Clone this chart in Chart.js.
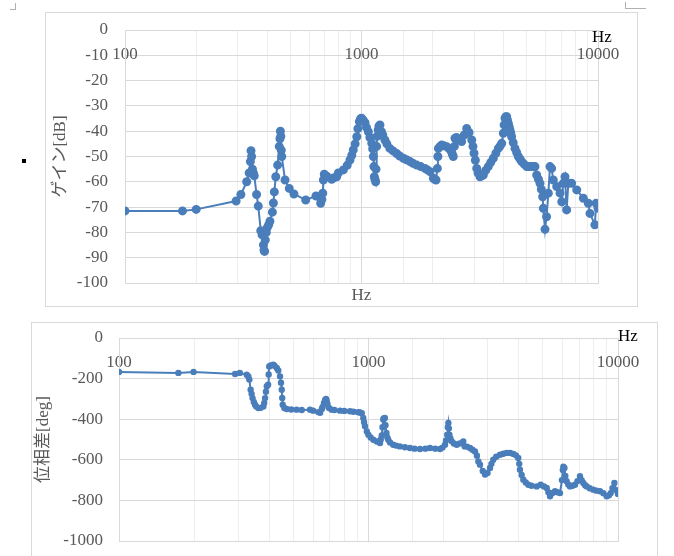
<!DOCTYPE html>
<html>
<head>
<meta charset="utf-8">
<script src="https://cdn.jsdelivr.net/npm/chart.js@4.4.0/dist/chart.umd.min.js"></script>
<style>
html, body { margin: 0; padding: 0; background: #fff; width: 674px; height: 556px; overflow: hidden; }
.box { position: absolute; border: 1px solid #d9d9d9; box-sizing: border-box; background: #fff; }
#box1 { left: 45px; top: 12px; width: 593px; height: 295px; }
#box2 { left: 31px; top: 322px; width: 627px; height: 245px; }
.hz { position: absolute; font: 17px/17px "Liberation Serif", serif; color: #000; }
.mark { position: absolute; background: #b0b0b0; }
</style>
</head>
<body>
<div class="box" id="box1"><canvas id="gainChart"></canvas></div>
<div class="box" id="box2"><canvas id="phaseChart"></canvas></div>
<div class="hz" style="left:592px; top:28px;">Hz</div>
<div class="hz" style="left:618px; top:327px;">Hz</div>
<div style="position:absolute; left:22px; top:159px; width:4px; height:4px; background:#000;"></div>
<div class="mark" style="left:10px; top:9px; width:6px; height:1px;"></div>
<div class="mark" style="left:15px; top:3px; width:1px; height:7px;"></div>
<div class="mark" style="left:625px; top:8px; width:21px; height:1px;"></div>
<div class="mark" style="left:625px; top:2px; width:1px; height:7px;"></div>
<script>
// gain (top chart), Hz / dB
const gainFreq = [
  100, 175, 200, 295, 309, 327, 335, 339, 341, 343,
  346, 349, 352, 360, 366, 375, 380, 385, 387, 389,
  392, 396, 400, 405, 410, 420, 424, 428, 434, 442,
  449, 452, 454, 456, 458, 460, 475, 495, 518, 581,
  642, 665, 672, 680, 686, 690, 696, 713, 748, 760,
  785, 798, 838, 870, 894, 910, 923, 940, 955, 965,
  979, 990, 1000, 1015, 1035, 1050, 1069, 1085, 1105, 1115,
  1122, 1128, 1133, 1140, 1148, 1152, 1159, 1165, 1177, 1185,
  1197, 1215, 1230, 1256, 1280, 1318, 1360, 1408, 1450, 1503,
  1550, 1604, 1650, 1711, 1780, 1855, 1900, 1949, 2013, 2040,
  2066, 2093, 2104, 2114, 2150, 2183, 2230, 2292, 2350, 2404,
  2420, 2443, 2470, 2484, 2520, 2560, 2600, 2652, 2720, 2785,
  2850, 2925, 2960, 2991, 3030, 3070, 3110, 3170, 3220, 3275,
  3350, 3437, 3520, 3609, 3700, 3789, 3860, 3917, 3979, 4010,
  4045, 4080, 4111, 4140, 4178, 4210, 4245, 4280, 4313, 4380,
  4457, 4530, 4603, 4680, 4755, 4870, 4996, 5080, 5158, 5300,
  5415, 5505, 5600, 5686, 5760, 5835, 5870, 5970, 6060, 6167,
  6266, 6366, 6470, 6689, 6910, 7028, 7130, 7250, 7370, 7490,
  7740, 8130, 8670, 9100, 9250, 9700, 9820, 10000];
const gainDb = [
  -71.5, -71.5, -70.9, -67.6, -65, -60, -56.5, -52, -47.7, -50,
  -55, -56.5, -57.6, -65, -69.6, -79.3, -81, -85, -87, -87.5,
  -83, -80, -78, -77, -75.6, -72, -68.4, -64, -58, -53.4,
  -46, -43, -40, -42, -47.5, -50, -59.3, -62.6, -64.8, -67.2,
  -65.6, -66, -68.5, -67, -64.5, -59.3, -57, -57.8, -59, -58.5,
  -58, -56.5, -55.3, -53.5, -51.4, -49.5, -47.4, -45, -42.2, -39,
  -36.2, -35.2, -34.9, -35.5, -36.6, -38.5, -40.2, -42.5, -44.8, -47,
  -50, -54, -58, -59, -60, -55, -46, -42, -39.5, -38,
  -37.5, -40.2, -41.5, -43.5, -45, -46.8, -47.8, -48.8, -49.8, -50.7,
  -51.3, -52, -52.7, -53.4, -54, -54.7, -55.3, -56, -58.6, -59,
  -59.3, -54.7, -50, -46.8, -46, -45.5, -45.8, -46.1, -47, -48.1,
  -49, -50, -46, -42.8, -42.5, -43, -43.5, -44.1, -41.5, -38.9,
  -40.5, -43.5, -46, -48.7, -51.5, -54.7, -56.5, -58, -57.6, -57.3,
  -55.5, -54, -52.3, -50.7, -48.7, -46.8, -45.8, -44.8, -40.8, -37.5,
  -34.9, -34.3, -34.3, -35.5, -36.9, -38.2, -39.5, -40.8, -42.2, -44.5,
  -46.8, -48.4, -50, -51, -52, -53, -54, -54, -54, -54,
  -54, -57.3, -59, -60.6, -63, -65.9, -70.5, -78.8, -73.8, -64.5,
  -54, -54.7, -59.3, -61.9, -64.5, -67.9, -60.6, -58, -71.1, -60.6,
  -60.6, -63.2, -66.5, -68.5, -72.5, -77, -68.5, -70.5];

// phase (bottom chart), Hz / deg
const phaseFreq = [
  100, 173, 199, 292, 305, 325, 330, 333, 337, 340,
  343, 347, 351, 355, 362, 370, 379, 382, 385, 388,
  391, 396, 398, 400, 405, 415, 420, 429, 435, 442,
  446, 449, 451, 453, 460, 470, 490, 515, 540, 583,
  600, 629, 640, 650, 655, 663, 670, 676, 680, 685,
  695, 712, 730, 769, 800, 843, 870, 910, 925, 940,
  953, 960, 968, 985, 999, 1020, 1046, 1080, 1112, 1120,
  1130, 1138, 1146, 1150, 1163, 1170, 1180, 1190, 1200, 1220,
  1256, 1290, 1336, 1400, 1466, 1530, 1608, 1690, 1764, 1850,
  1935, 1980, 2026, 2045, 2068, 2080, 2090, 2100, 2110, 2130,
  2156, 2200, 2256, 2320, 2398, 2430, 2480, 2552, 2610, 2672,
  2720, 2756, 2798, 2870, 2931, 3000, 3069, 3110, 3164, 3250,
  3366, 3470, 3580, 3700, 3805, 3900, 3984, 4020, 4046, 4110,
  4174, 4270, 4371, 4500, 4722, 4900, 5050, 5180, 5260, 5340,
  5450, 5592, 5720, 5855, 5960, 6010, 6040, 6100, 6150, 6225,
  6320, 6422, 6570, 6724, 6880, 7041, 7150, 7261, 7380, 7491,
  7700, 7963, 8200, 8470, 8740, 9009, 9200, 9350, 9500, 9670,
  9850, 10000];
const phaseDeg = [
  -167, -172, -167, -177, -172, -181, -190, -205, -255, -275,
  -296, -315, -329, -338, -345, -344, -337, -320, -296, -265,
  -238, -230, -180, -140, -135, -132, -137, -148, -160, -189,
  -220, -255, -295, -329, -345, -350, -352, -353, -355, -353,
  -358, -365, -368, -350, -340, -320, -305, -300, -310, -325,
  -345, -353, -355, -358, -359, -361, -363, -366, -367, -370,
  -394, -415, -435, -460, -476, -490, -501, -510, -517, -500,
  -480, -440, -402, -396, -394, -430, -468, -490, -501, -515,
  -526, -530, -534, -538, -542, -545, -547, -545, -542, -545,
  -547, -540, -526, -505, -476, -440, -419, -445, -476, -495,
  -509, -520, -526, -520, -509, -534, -535, -542, -550, -559,
  -580, -608, -624, -655, -673, -665, -640, -620, -600, -585,
  -575, -570, -566, -566, -571, -578, -591, -620, -649, -675,
  -698, -712, -723, -728, -731, -723, -731, -739, -760, -780,
  -765, -755, -760, -764, -700, -650, -634, -640, -680, -706,
  -722, -731, -728, -723, -705, -681, -700, -714, -725, -731,
  -740, -747, -752, -755, -765, -780, -775, -764, -740, -714,
  -750, -768];

const xTickLabels = ['100', '1000', '10000'];
const gainTicks = [0, -10, -20, -30, -40, -50, -60, -70, -80, -90, -100];
const phaseTicks = [0, -200, -400, -600, -800, -1000];

const blue = '#4a7ebb';
Chart.defaults.font.family = '"Liberation Serif", "Noto Sans CJK JP", serif';
Chart.defaults.font.size = 17;
Chart.defaults.color = '#595959';

function isDecade(v) {
    const l = Math.log10(v);
    return Math.abs(l - Math.round(l)) < 1e-6;
}
const gridColor = ctx => (ctx.tick && isDecade(ctx.tick.value)) ? '#d9d9d9' : '#eeeeee';
const decadeLabel = v => {
    const s = String(Math.round(v));
    return xTickLabels.includes(s) ? s : '';
};

function freqChart(id, freqs, vals, opt) {
    return new Chart(document.getElementById(id), {
        type: 'line',
        data: {
            datasets: [{
                data: freqs.map((f, i) => ({ x: f, y: vals[i] })),
                borderColor: blue,
                backgroundColor: blue,
                borderWidth: 2,
                pointRadius: opt.pointRadius,
                pointHoverRadius: opt.pointRadius,
                tension: 0
            }]
        },
        options: {
            responsive: true,
            maintainAspectRatio: false,
            animation: false,
            layout: { padding: opt.padding },
            plugins: { legend: { display: false }, tooltip: { enabled: false } },
            scales: {
                x: {
                    type: 'logarithmic', min: 100, max: 10000, position: 'bottom',
                    grid: { color: gridColor, drawTicks: false },
                    border: { color: '#d9d9d9' },
                    ticks: { display: false },
                    title: { display: !!opt.xTitle, text: opt.xTitle || '', padding: { top: 0, bottom: 0 } },
                    afterFit: s => { s.height = opt.xHeight; }
                },
                // labels sit just under the zero line, like the original
                x2: {
                    type: 'logarithmic', axis: 'x', min: 100, max: 10000, position: { y: 0 },
                    grid: { display: false, drawTicks: false },
                    border: { display: false },
                    ticks: { autoSkip: false, maxRotation: 0, padding: 14, callback: decadeLabel }
                },
                y: {
                    min: opt.yTicks[opt.yTicks.length - 1], max: opt.yTicks[0],
                    afterBuildTicks: s => { s.ticks = opt.yTicks.map(v => ({ value: v })); },
                    ticks: { padding: opt.yPad, callback: v => String(v) },
                    grid: { color: '#d9d9d9', drawTicks: false },
                    border: { color: '#d9d9d9' },
                    title: { display: true, text: opt.yTitle, padding: { top: opt.titlePad, bottom: 0 } },
                    afterFit: s => {
                        s.width = opt.yWidth;
                        s.paddingTop = 0;
                        s.paddingBottom = 0;
                    }
                }
            }
        }
    });
}

freqChart('gainChart', gainFreq, gainDb, {
    pointRadius: 3.5, padding: { left: 0, top: 17, right: 39, bottom: 0 },
    xTitle: 'Hz', xHeight: 23, yTicks: gainTicks, yPad: 17, yTitle: 'ゲイン[dB]', titlePad: 4, yWidth: 79
});
freqChart('phaseChart', phaseFreq, phaseDeg, {
    pointRadius: 2.2, padding: { left: 0, top: 15, right: 39, bottom: 25 },
    xTitle: '', xHeight: 0, yTicks: phaseTicks, yPad: 16, yTitle: '位相差[deg]', titlePad: 1, yWidth: 87
});
</script>
</body>
</html>
